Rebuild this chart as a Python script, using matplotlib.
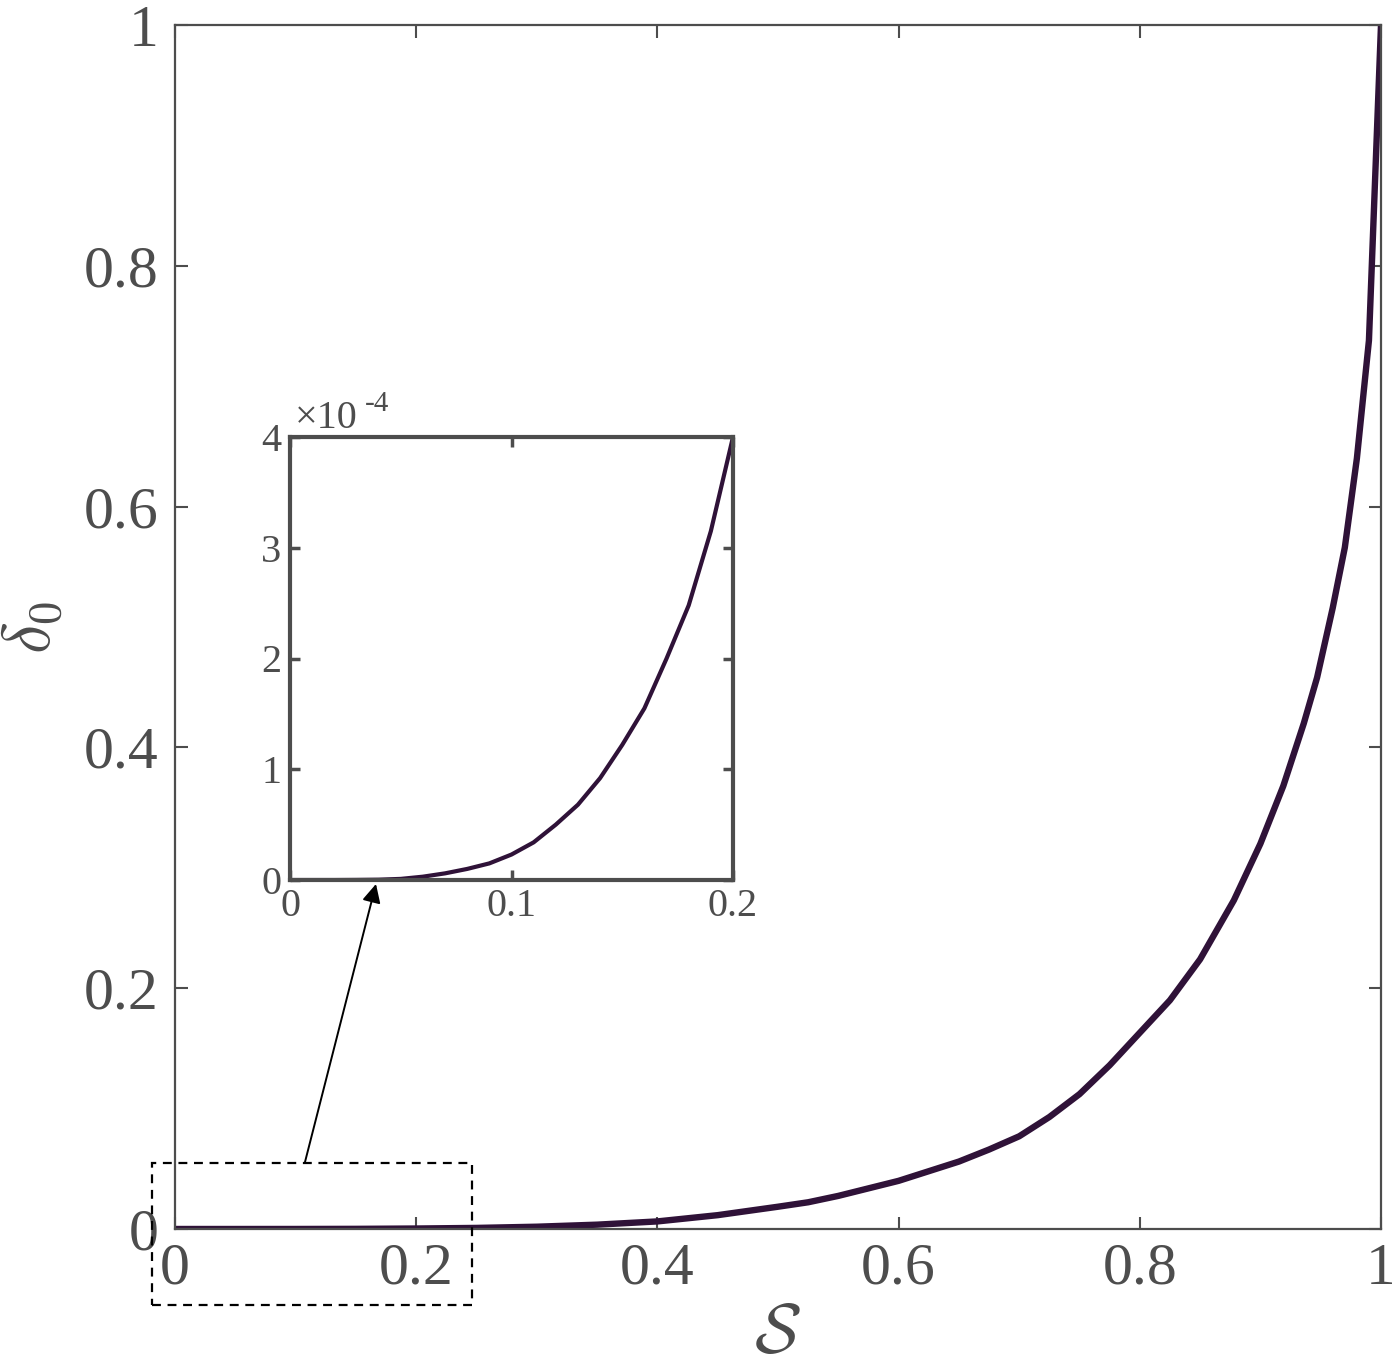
import numpy as np
import matplotlib
matplotlib.use("Agg")
import matplotlib.pyplot as plt

# 主图数据 (S, delta_0)
s_main = [0, 0.05, 0.1, 0.15, 0.2, 0.25, 0.3, 0.35, 0.4, 0.45, 0.5, 0.525,
          0.55, 0.6, 0.625, 0.65, 0.675, 0.7, 0.725, 0.75, 0.775, 0.8, 0.825,
          0.85, 0.878, 0.9, 0.919, 0.936, 0.947, 0.96, 0.97, 0.98, 0.99, 1.0]
delta_main = [0, 0.000004, 0.000023, 0.00012, 0.0004, 0.0009, 0.0019, 0.0036,
              0.0063, 0.0115, 0.0185, 0.0222, 0.0275, 0.040, 0.048, 0.056,
              0.066, 0.077, 0.093, 0.112, 0.136, 0.163, 0.190, 0.224, 0.273,
              0.320, 0.368, 0.420, 0.458, 0.516, 0.566, 0.640, 0.738, 1.0]

# 放大图数据, 单位 1e-4
s_inset = [0, 0.01, 0.02, 0.03, 0.04, 0.05, 0.06, 0.07, 0.08, 0.09, 0.1,
           0.11, 0.12, 0.13, 0.14, 0.15, 0.16, 0.17, 0.18, 0.19, 0.2]
delta_inset_e4 = [0, 0, 0, 0.001, 0.003, 0.01, 0.03, 0.06, 0.10, 0.15, 0.23,
                  0.34, 0.50, 0.68, 0.92, 1.22, 1.55, 2.00, 2.48, 3.15, 4.0]

main_ticks = [0, 0.2, 0.4, 0.6, 0.8, 1]
main_labels = ['0', '0.2', '0.4', '0.6', '0.8', '1']
inset_xticks = [0, 0.1, 0.2]
inset_xlabels = ['0', '0.1', '0.2']
inset_yticks = [0, 1, 2, 3, 4]

plt.rcParams['font.family'] = ['Liberation Serif', 'DejaVu Serif']
plt.rcParams['mathtext.fontset'] = 'cm'

line_c = '#2f1238'
axis_c = '#4d4d4d'

W, H = 1392, 1367
fig = plt.figure(figsize=(W / 100, H / 100), dpi=100)

ax = fig.add_axes([175 / W, 1 - 1229 / H, 1206 / W, 1204 / H])
ax.plot(s_main, delta_main, color=line_c, lw=4.6, solid_joinstyle='round')
ax.set_xlim(0, 1)
ax.set_ylim(0, 1)
ax.set_xticks(main_ticks)
ax.set_xticklabels(main_labels)
ax.set_yticks(main_ticks)
ax.set_yticklabels(main_labels)
ax.tick_params(direction='in', length=9, width=1.5, colors=axis_c,
               labelsize=43, top=True, right=True)
ax.tick_params(axis='x', pad=10)
ax.tick_params(axis='y', pad=12)
for sp in ax.spines.values():
    sp.set_color(axis_c)
    sp.set_linewidth(1.6)

# 坐标轴标题
fig.text(777 / W, 1 - 1335 / H, r'$\mathcal{S}$', fontsize=50, color=axis_c,
         ha='center', va='center')
fig.text(33 / W, 1 - 627 / H, r'$\delta_0$', fontsize=48, color=axis_c,
         ha='center', va='center', rotation=90)

# 虚线框
rect = plt.Rectangle((152 / W, 1 - 1305 / H), 320 / W, 142 / H,
                     transform=fig.transFigure, fill=False, ec='black',
                     lw=1.6, ls=(0, (4, 3)))
fig.add_artist(rect)

# 箭头
fig.add_artist(matplotlib.patches.FancyArrowPatch(
    (305 / W, 1 - 1162 / H), (376 / W, 1 - 884 / H),
    transform=fig.transFigure, arrowstyle='-|>', mutation_scale=28,
    color='black', lw=1.4, shrinkA=0, shrinkB=0))

# 放大图
axi = fig.add_axes([290 / W, 1 - 880 / H, 443 / W, 443 / H])
axi.plot(s_inset, np.array(delta_inset_e4) * 1e-4, color=line_c, lw=3)
axi.set_xlim(0, 0.2)
axi.set_ylim(0, 4e-4)
axi.set_xticks(inset_xticks)
axi.set_xticklabels(inset_xlabels)
axi.set_yticks(np.array(inset_yticks) * 1e-4)
axi.set_yticklabels([str(v) for v in inset_yticks])
axi.tick_params(direction='in', length=7, width=2.5, colors=axis_c,
                labelsize=29, top=True, right=True, pad=6)
for sp in axi.spines.values():
    sp.set_color(axis_c)
    sp.set_linewidth(3)
axi.text(0.01, 1.0, '\u00d710', transform=axi.transAxes, fontsize=29,
         color=axis_c, ha='left', va='bottom')
axi.text(0.17, 1.045, '-4', transform=axi.transAxes, fontsize=21,
         color=axis_c, ha='left', va='bottom')

fig.savefig('out.png', dpi=100)
